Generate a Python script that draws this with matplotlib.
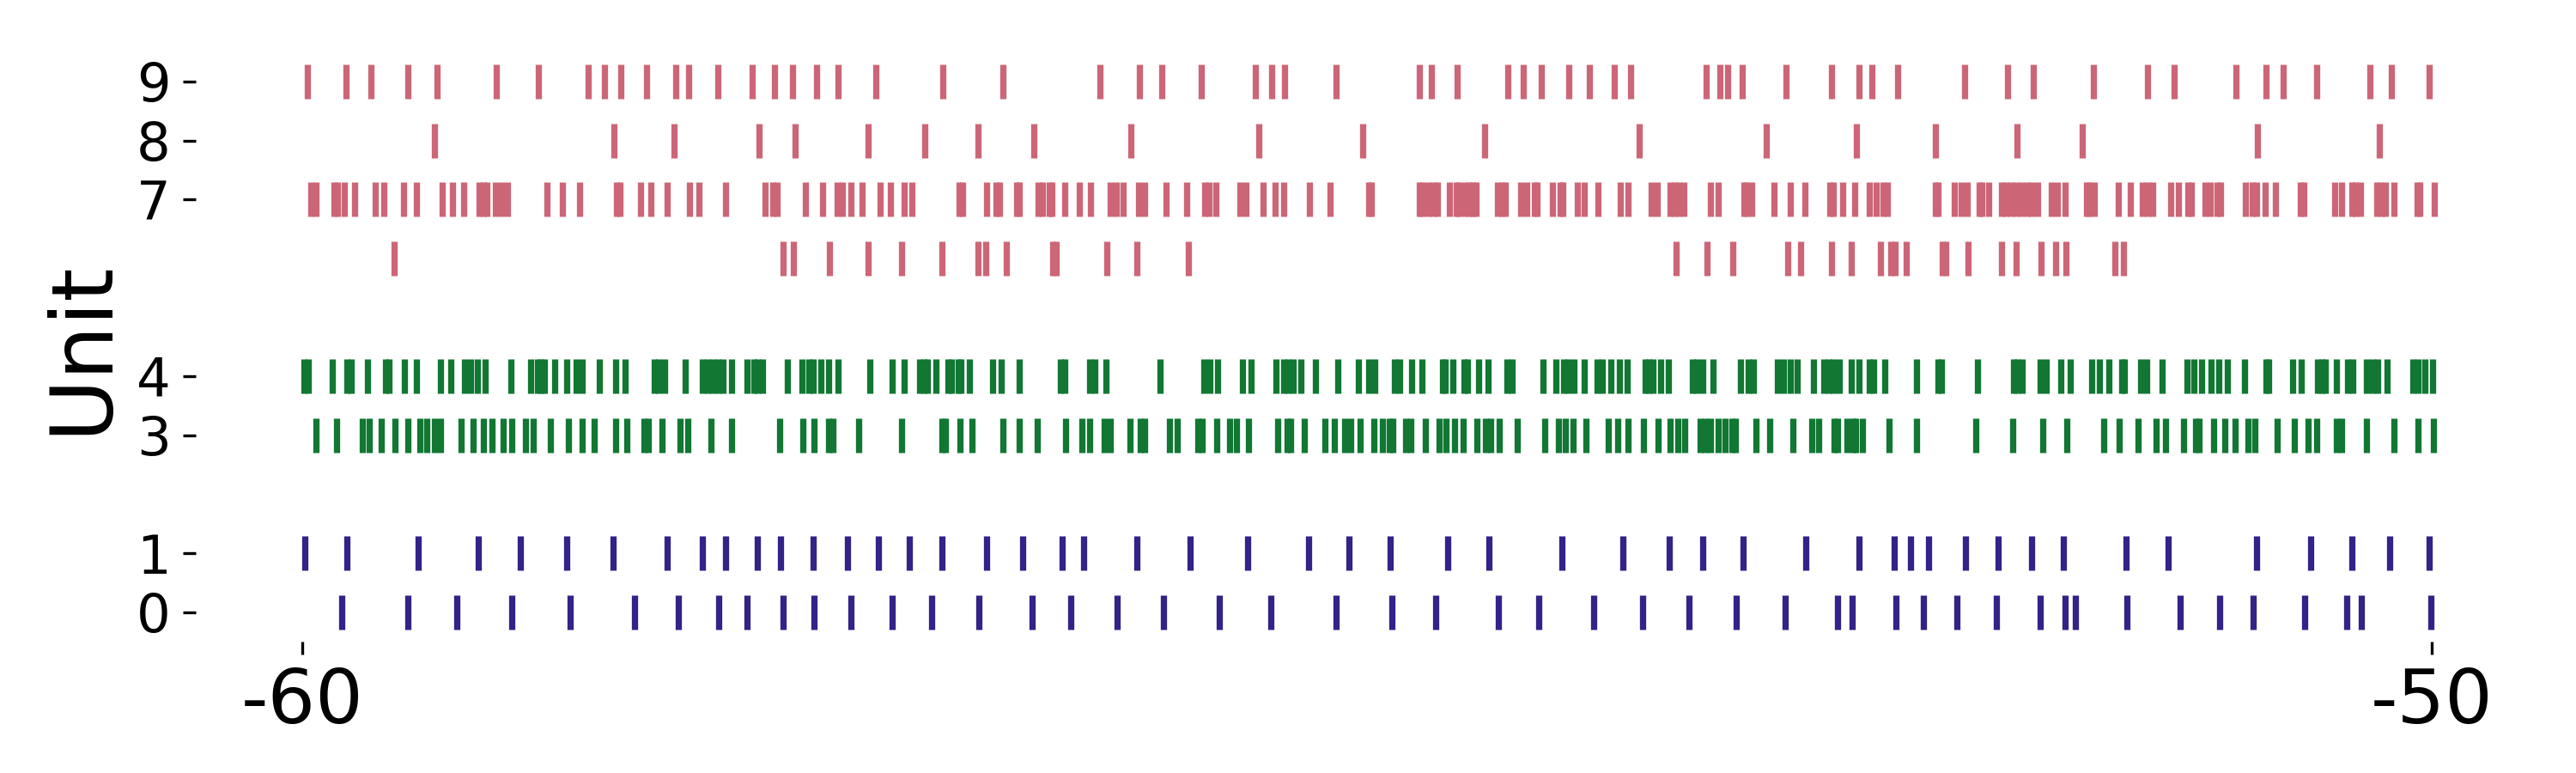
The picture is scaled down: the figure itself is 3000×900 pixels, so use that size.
import matplotlib
matplotlib.use("Agg")
import matplotlib.pyplot as plt

# ---- data: spike times (s) per unit ----
unit0 = [-59.816, -59.505, -59.273, -59.015, -58.740, -58.439, -58.233, -58.044, -57.910, -57.743,
         -57.596, -57.422, -57.230, -57.046, -56.824, -56.572, -56.389, -56.173, -55.954, -55.693,
         -55.451, -55.143,
         -54.882, -54.676, -54.382, -54.192, -53.937, -53.705, -53.489, -53.264, -53.035, -52.790,
         -52.721, -52.515, -52.387, -52.230, -52.044, -51.838, -51.723, -51.674, -51.432, -51.181,
         -50.994, -50.837, -50.595, -50.399, -50.330, -50.003]

unit1 = [-59.989, -59.790, -59.456, -59.175, -58.976, -58.757, -58.541, -58.286, -58.119, -58.014,
         -57.861, -57.753, -57.602, -57.439, -57.295, -57.151, -56.994, -56.785, -56.615, -56.432,
         -56.330, -56.079, -55.830, -55.559, -55.274, -55.084,
         -54.892, -54.621, -54.428, -54.084, -53.800, -53.581, -53.424, -53.234, -52.940, -52.691,
         -52.525, -52.446, -52.361, -52.188, -52.037, -51.877, -51.730, -51.436, -51.236, -50.821,
         -50.569, -50.373, -50.196, -50.013]

unit3 = [-59.934, -59.839, -59.718, -59.685, -59.630, -59.564, -59.505, -59.447, -59.414, -59.378,
         -59.349, -59.254, -59.198, -59.149, -59.107, -59.057, -59.015, -58.953, -58.914, -58.835,
         -58.750, -58.685, -58.629, -58.528, -58.475, -58.397, -58.374, -58.309, -58.224, -58.188,
         -58.080, -57.982, -57.756, -57.651, -57.596, -57.527, -57.508, -57.387, -57.184, -56.994,
         -56.978, -56.912, -56.854, -56.710, -56.634, -56.549, -56.415, -56.340, -56.301, -56.235,
         -56.206, -56.114, -56.065, -56.046, -55.928, -55.892, -55.794, -55.774, -55.706, -55.644,
         -55.614, -55.555, -55.421, -55.375, -55.359, -55.294, -55.196, -55.153, -55.104, -55.078,
         -55.032, -54.967,
         -54.928, -54.895, -54.879, -54.817, -54.794, -54.725, -54.660, -54.627, -54.588, -54.549,
         -54.483, -54.444, -54.418, -54.379, -54.294, -54.166, -54.101, -54.068, -54.032, -53.970,
         -53.865, -53.823, -53.774, -53.702, -53.633, -53.578, -53.542, -53.506, -53.434, -53.411,
         -53.388, -53.352, -53.319, -53.287, -53.270, -53.172, -53.110, -52.999, -52.910, -52.878,
         -52.806, -52.790, -52.747, -52.718, -52.704, -52.672, -52.548, -52.420, -52.139, -51.969,
         -51.825, -51.714, -51.540, -51.468, -51.377, -51.295, -51.249, -51.164, -51.109, -51.092,
         -51.024, -50.971, -50.922, -50.863, -50.831, -50.726, -50.644, -50.579, -50.540, -50.448,
         -50.422, -50.308, -50.177, -50.066, -49.990]

unit4 = [-59.993, -59.970, -59.859, -59.790, -59.770, -59.695, -59.610, -59.594, -59.522, -59.463,
         -59.349, -59.303, -59.237, -59.208, -59.178, -59.143, -59.022, -58.927, -58.897, -58.878,
         -58.861, -58.816, -58.757, -58.714, -58.685, -58.603, -58.528, -58.482, -58.348, -58.328,
         -58.299, -58.201, -58.119, -58.096, -58.073, -58.050, -58.024, -57.982, -57.913, -57.880,
         -57.864, -57.838, -57.720, -57.655, -57.622, -57.599, -57.566, -57.530, -57.485, -57.334,
         -57.230, -57.174, -57.102, -57.082, -57.066, -57.024, -56.968, -56.952, -56.919, -56.906,
         -56.867, -56.759, -56.716, -56.631, -56.441, -56.419, -56.301, -56.278, -56.226, -55.971,
         -55.765, -55.738, -55.702, -55.585, -55.546, -55.428, -55.392, -55.369, -55.346, -55.310,
         -55.241, -55.137, -55.042, -54.993, -54.963,
         -54.869, -54.846, -54.791, -54.742, -54.644, -54.631, -54.598, -54.545, -54.529, -54.477,
         -54.431, -54.343, -54.320, -54.173, -54.111, -54.075, -54.055, -54.029, -53.980, -53.921,
         -53.895, -53.856, -53.816, -53.777, -53.692, -53.676, -53.659, -53.620, -53.584, -53.473,
         -53.453, -53.424, -53.375, -53.244, -53.211, -53.185, -53.074, -53.045, -53.012, -52.979,
         -52.901, -52.855, -52.832, -52.809, -52.783, -52.724, -52.691, -52.642, -52.619, -52.567,
         -52.420, -52.319, -52.302, -52.132, -51.965, -51.946, -51.923, -51.838, -51.809, -51.743,
         -51.697, -51.596, -51.560, -51.517, -51.455, -51.442, -51.367, -51.338, -51.266, -51.148,
         -51.115, -51.079, -51.037, -50.998, -50.958, -50.880, -50.778, -50.765, -50.654, -50.612,
         -50.536, -50.517, -50.501, -50.448, -50.393, -50.370, -50.308, -50.278, -50.252, -50.209,
         -50.088, -50.066, -50.033, -49.997]

unit6 = [-59.568, -57.743, -57.694, -57.524, -57.341, -57.187, -56.997, -56.827, -56.791, -56.693,
         -56.474, -56.461, -56.222, -56.079, -55.840,
         -53.548, -53.401, -53.280, -53.022, -52.963, -52.819, -52.724, -52.587, -52.541, -52.521,
         -52.466, -52.299, -52.283, -52.178, -52.018, -51.952, -51.835, -51.766, -51.717, -51.488,
         -51.449]

unit7 = [-59.960, -59.937, -59.852, -59.836, -59.803, -59.754, -59.659, -59.617, -59.525, -59.463,
         -59.342, -59.296, -59.241, -59.169, -59.149, -59.133, -59.093, -59.064, -59.038, -58.851,
         -58.780, -58.698, -58.524, -58.508, -58.413, -58.361, -58.286, -58.181, -58.139, -58.011,
         -57.825, -57.792, -57.772, -57.635, -57.557, -57.488, -57.465, -57.422, -57.370, -57.285,
         -57.236, -57.174, -57.135, -56.916, -56.899, -56.785, -56.742, -56.726, -56.647, -56.634,
         -56.546, -56.523, -56.491, -56.481, -56.419, -56.350, -56.298, -56.206, -56.177, -56.147,
         -56.072, -56.046, -55.944, -55.846, -55.761, -55.742, -55.709, -55.598, -55.568, -55.487,
         -55.431, -55.392, -55.271, -55.173, -54.993, -54.980,
         -54.755, -54.742, -54.712, -54.689, -54.670, -54.614, -54.581, -54.568, -54.539, -54.519,
         -54.503, -54.487, -54.385, -54.366, -54.349, -54.277, -54.251, -54.215, -54.202, -54.130,
         -54.094, -54.081, -54.012, -53.980, -53.914, -53.810, -53.774, -53.666, -53.636, -53.578,
         -53.558, -53.538, -53.512, -53.385, -53.349, -53.231, -53.218, -53.192, -53.090, -53.012,
         -52.943, -52.825, -52.812, -52.767, -52.708, -52.642, -52.610, -52.577, -52.557, -52.332,
         -52.319, -52.240, -52.211, -52.181, -52.126, -52.113, -52.080, -52.018, -52.001, -51.975,
         -51.952, -51.929, -51.897, -51.880, -51.851, -51.786, -51.756, -51.723, -51.622, -51.609,
         -51.586, -51.472, -51.416, -51.357, -51.334, -51.311, -51.226, -51.190, -51.145, -51.128,
         -51.063, -51.040, -51.007, -50.991, -50.873, -50.844, -50.821, -50.782, -50.733, -50.618,
         -50.599, -50.455, -50.425, -50.376, -50.357, -50.334, -50.259, -50.239, -50.219, -50.177,
         -50.069, -50.056, -49.987]

unit8 = [-59.381, -58.535, -58.254, -57.855, -57.685, -57.342, -57.077, -56.825, -56.564, -56.109,
         -55.508, -55.021,
         -54.448, -53.722, -53.124, -52.702, -52.329, -51.947, -51.639, -50.819, -50.247]

unit9 = [-59.976, -59.793, -59.679, -59.506, -59.368, -59.090, -58.891, -58.656, -58.581, -58.505,
         -58.384, -58.247, -58.185, -58.048, -57.887, -57.783, -57.698, -57.584, -57.485, -57.306,
         -56.992, -56.711, -56.253, -56.070, -55.965, -55.779, -55.524, -55.446, -55.387, -55.145,
         -54.752, -54.696, -54.578, -54.340, -54.265, -54.183, -54.052, -53.954, -53.840, -53.761,
         -53.405, -53.343, -53.307, -53.238, -53.032, -52.820, -52.689, -52.630, -52.509, -52.195,
         -51.993, -51.872, -51.587, -51.336, -51.211, -50.920, -50.776, -50.698, -50.538, -50.289,
         -50.188, -50.012]

units = [0, 1, 3, 4, 6, 7, 8, 9]
spikes = [unit0, unit1, unit3, unit4, unit6, unit7, unit8, unit9]
group_colors = {0: "#332288", 1: "#332288", 3: "#117733", 4: "#117733",
                6: "#CC6677", 7: "#CC6677", 8: "#CC6677", 9: "#CC6677"}
ytick_units = [0, 1, 3, 4, 7, 8, 9]
xtick_values = [-60, -50]

# ---- plot ----
fig = plt.figure(figsize=(10, 3), dpi=300)
ax = fig.add_axes([0.076, 0.17, 0.9093, 0.7626])

ax.eventplot(spikes, lineoffsets=units, linelengths=0.58, linewidths=1.75,
             colors=[group_colors[u] for u in units])

ax.set_xlim(-60.5, -49.5)
ax.set_ylim(-0.5, 9.5)
ax.set_yticks(ytick_units)
ax.set_yticklabels([str(u) for u in ytick_units], fontsize=15)
ax.set_xticks(xtick_values)
ax.set_xticklabels([str(v) for v in xtick_values], fontsize=21)
ax.tick_params(axis="both", length=3.5, width=0.8)
ax.set_ylabel("Unit", fontsize=24, labelpad=3.5)
for s in ax.spines.values():
    s.set_visible(False)

fig.savefig("out.png", dpi=300)
